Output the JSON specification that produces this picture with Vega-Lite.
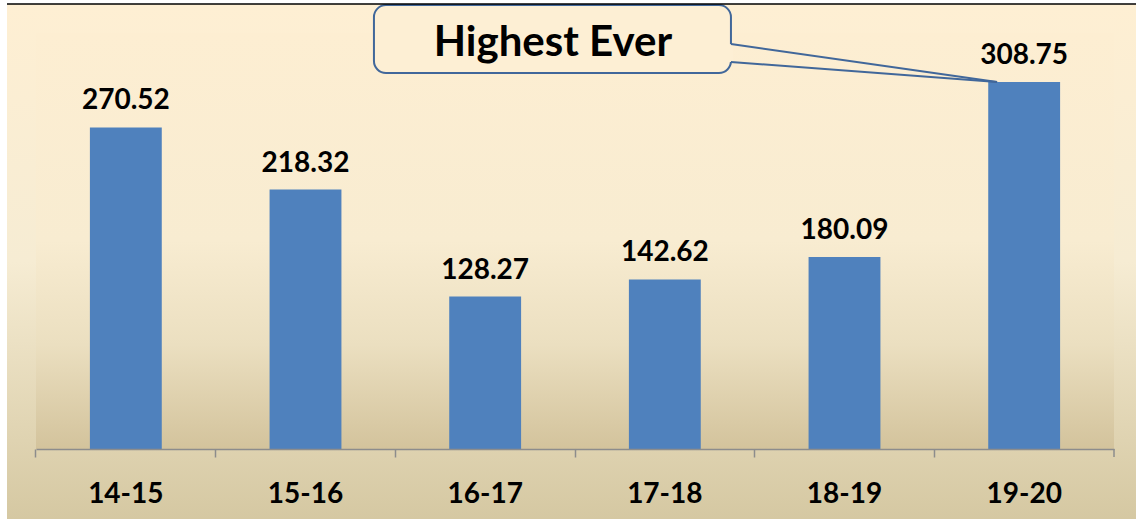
{
  "$schema": "https://vega.github.io/schema/vega-lite/v6.json",
  "width": 1129,
  "height": 515,
  "autosize": "none",
  "padding": {"left": 7, "top": 4, "right": 0, "bottom": 0},
  "background": "white",
  "config": {"view": {"stroke": null}, "font": "Lato"},
  "resolve": {"scale": {"x": "independent"}},
  "layer": [
    {
      "data": {"values": [{"k": 1}]},
      "mark": {
        "type": "rect",
        "fill": {
          "gradient": "linear", "x1": 0, "y1": 0, "x2": 0, "y2": 1,
          "stops": [
            {"offset": 0, "color": "#FEEFD3"},
            {"offset": 0.5, "color": "#F6ECD3"},
            {"offset": 1, "color": "#D5C8A2"}
          ]
        }
      },
      "encoding": {}
    },
    {
      "data": {"values": [{"x1": 0, "x2": 6, "y1": 0, "y2": 350}]},
      "mark": {
        "type": "rect",
        "fill": {
          "gradient": "linear", "x1": 0, "y1": 0, "x2": 0, "y2": 1,
          "stops": [
            {"offset": 0, "color": "#FDEED2"},
            {"offset": 0.5, "color": "#F8ECD1"},
            {"offset": 0.75, "color": "#EBDFC0"},
            {"offset": 1, "color": "#D3C39C"}
          ]
        }
      },
      "encoding": {
        "x": {"field": "x1", "type": "quantitative", "scale": {"domain": [0, 6], "range": [29, 1107], "nice": false, "zero": false}, "axis": null},
        "x2": {"field": "x2"},
        "y": {"field": "y1", "type": "quantitative", "scale": {"domain": [-58.9, 374.4], "nice": false, "zero": false}, "axis": null},
        "y2": {"field": "y2"}
      }
    },
    {
      "data": {
        "values": [
          {"year": "14-15", "value": 270.52, "label": "270.52"},
          {"year": "15-16", "value": 218.32, "label": "218.32"},
          {"year": "16-17", "value": 128.27, "label": "128.27"},
          {"year": "17-18", "value": 142.62, "label": "142.62"},
          {"year": "18-19", "value": 161.5, "label": "180.09"},
          {"year": "19-20", "value": 308.75, "label": "308.75"}
        ]
      },
      "encoding": {
        "x": {
          "field": "year", "type": "nominal", "sort": null,
          "scale": {"range": [29, 1107], "paddingInner": 0.6, "paddingOuter": 0.3},
          "axis": {
            "orient": "bottom", "offset": -70, "title": null, "bandPosition": -0.75, "zindex": 1,
            "domainColor": "#8C8C8C", "domainWidth": 1.5,
            "tickColor": "#8C8C8C", "tickWidth": 1.5, "tickSize": 8,
            "labelFont": "Lato", "labelFontWeight": "bold", "labelFontSize": 28,
            "labelColor": "black", "labelPadding": 23, "labelAngle": 0
          }
        },
        "y": {"field": "value", "type": "quantitative", "scale": {"domain": [-58.9, 374.4], "nice": false, "zero": false}, "axis": null}
      },
      "layer": [
        {"mark": {"type": "bar", "color": "#4F81BD"}, "encoding": {"y2": {"datum": 0}}},
        {
          "mark": {"type": "text", "font": "Lato", "fontWeight": "bold", "fontSize": 28, "baseline": "alphabetic", "dy": -18, "color": "black"},
          "encoding": {"text": {"field": "label"}}
        }
      ]
    },
    {
      "data": {"values": [{"x1": 1.881, "x2": 3.868, "y1": 373.5, "y2": 316.3, "tx": 2.877, "ty": 330.6, "t": "Highest Ever", "px": 3.868, "tipx": 5.349, "pyu": 340.7, "pyl": 325.6, "tipy": 308.75, "endx": 6, "tk0": 0, "tk1": -6.73}]},
      "layer": [
        {
          "mark": {"type": "rect", "fill": "#FDEFD4", "stroke": "#41679A", "strokeWidth": 2, "cornerRadius": 12},
          "encoding": {
            "x": {"field": "x1", "type": "quantitative", "scale": {"domain": [0, 6], "range": [29, 1107], "nice": false, "zero": false}, "axis": null},
            "x2": {"field": "x2"},
            "y": {"field": "y1", "type": "quantitative", "scale": {"domain": [-58.9, 374.4], "nice": false, "zero": false}, "axis": null},
            "y2": {"field": "y2"}
          }
        },
        {
          "mark": {"type": "rule", "color": "#FDEFD4", "strokeWidth": 4},
          "encoding": {
            "x": {"field": "px", "type": "quantitative", "scale": {"domain": [0, 6], "range": [29, 1107], "nice": false, "zero": false}, "axis": null},
            "y": {"field": "pyu", "type": "quantitative", "axis": null},
            "y2": {"field": "pyl"}
          }
        },
        {
          "mark": {"type": "rule", "color": "#41679A", "strokeWidth": 2},
          "encoding": {
            "x": {"field": "px", "type": "quantitative", "axis": null},
            "x2": {"field": "tipx"},
            "y": {"field": "pyu", "type": "quantitative", "axis": null},
            "y2": {"field": "tipy"}
          }
        },
        {
          "mark": {"type": "rule", "color": "#41679A", "strokeWidth": 2},
          "encoding": {
            "x": {"field": "px", "type": "quantitative", "axis": null},
            "x2": {"field": "tipx"},
            "y": {"field": "pyl", "type": "quantitative", "axis": null},
            "y2": {"field": "tipy"}
          }
        },
        {
          "mark": {"type": "rule", "color": "#8C8C8C", "strokeWidth": 1.5},
          "encoding": {
            "x": {"field": "endx", "type": "quantitative", "axis": null},
            "y": {"field": "tk0", "type": "quantitative", "axis": null},
            "y2": {"field": "tk1"}
          }
        },
        {
          "mark": {"type": "text", "font": "Lato", "fontWeight": "bold", "fontSize": 42, "align": "center", "baseline": "alphabetic", "color": "black"},
          "encoding": {
            "x": {"field": "tx", "type": "quantitative", "axis": null},
            "y": {"field": "ty", "type": "quantitative", "axis": null},
            "text": {"field": "t"}
          }
        },
        {
          "mark": {"type": "rule", "color": "black", "strokeWidth": 1.5},
          "encoding": {
            "y": {"datum": 374.4, "type": "quantitative", "axis": null}
          }
        }
      ]
    }
  ]
}
